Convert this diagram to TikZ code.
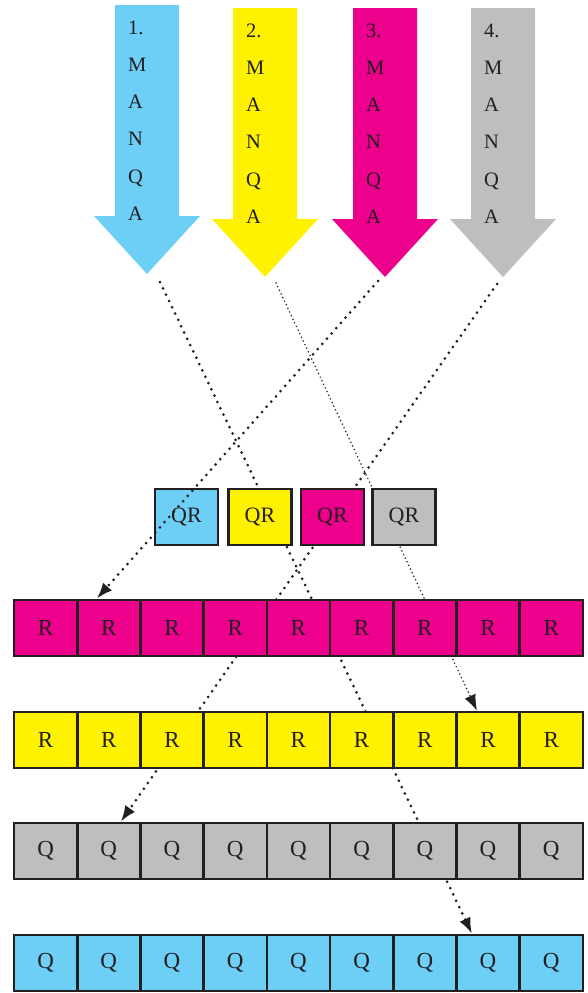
\documentclass[tikz,border=0pt]{standalone}
\usepackage{fontspec}
\setmainfont{Liberation Serif}
\usetikzlibrary{arrows.meta,backgrounds}
\definecolor{pcyan}{RGB}{110,207,246}
\definecolor{pyellow}{RGB}{255,242,0}
\definecolor{pmagenta}{RGB}{236,0,140}
\definecolor{pgray}{RGB}{188,190,192}
\definecolor{ink}{RGB}{35,31,32}
\tikzset{
  cell/.style={draw=ink,line width=2.6pt,minimum width=63.2pt,minimum height=56pt,
    inner sep=0pt,text=ink,font=\fontsize{23}{23}\selectfont},
  qrbox/.style={cell,minimum width=63pt,font=\fontsize{22}{22}\selectfont},
  letter/.style={anchor=base west,inner sep=0pt,text=ink,font=\fontsize{20.5}{20.5}\selectfont},
  dots/.style={ink,line width=3pt,dash pattern=on 0pt off 7pt,line cap=round},
  finedots/.style={ink,line width=1.7pt,dash pattern=on 0pt off 4pt,line cap=round},
  head/.style={-{Latex[length=16pt,width=12pt]}}
}
\begin{document}
\begin{tikzpicture}[x=1pt,y=-1pt]
  \useasboundingbox (0,0) rectangle (587,993);
  % big arrows
  \foreach \c/\x/\t [count=\i] in {pcyan/147/5,pyellow/265/8,pmagenta/385/8,pgray/503/8}{
    \fill[\c] ({\x-32},\t) -- ({\x+32},\t) -- ({\x+32},{\t+211}) -- ({\x+53},{\t+211})
      -- (\x,{\t+269}) -- ({\x-53},{\t+211}) -- ({\x-32},{\t+211}) -- cycle;
    \coordinate (tip\i) at (\x,{\t+269});
    \foreach \s [count=\j from 0] in {\i.,M,A,N,Q,A}
      \node[letter] (t\i-\j) at ({\x-19},{\t+29+37.3*\j}) {\s};
  }
  % QR boxes
  \foreach \c/\x [count=\i] in {pcyan/186.5,pyellow/260,pmagenta/332.5,pgray/404}
    \node[qrbox,fill=\c] (qr\i) at (\x,517) {QR};
  % rows
  \foreach \c/\y/\s [count=\r] in {pmagenta/628/R,pyellow/740/R,pgray/851/Q,pcyan/963/Q}
    \foreach \k in {1,...,9}
      \node[cell,fill=\c] (c\r-\k) at ({45.6+63.2*(\k-1)},\y) {\s};
  % dotted paths behind the boxes
  \begin{scope}[on background layer]
    \draw[dots,head] ([xshift=13pt,yshift=-8pt]tip1) -- ([xshift=-16pt]c4-8.north);
    \draw[finedots,head] ([xshift=11pt,yshift=-6pt]tip2) -- ([xshift=-11pt]c2-8.north);
    \draw[dots,head] ([xshift=-6pt,yshift=-7pt]tip4) -- ([xshift=12pt]c3-2.north);
  \end{scope}
  \draw[dots,head] ([xshift=-7pt,yshift=-4pt]tip3) -- ([xshift=-12pt]c1-2.north);
\end{tikzpicture}
\end{document}
